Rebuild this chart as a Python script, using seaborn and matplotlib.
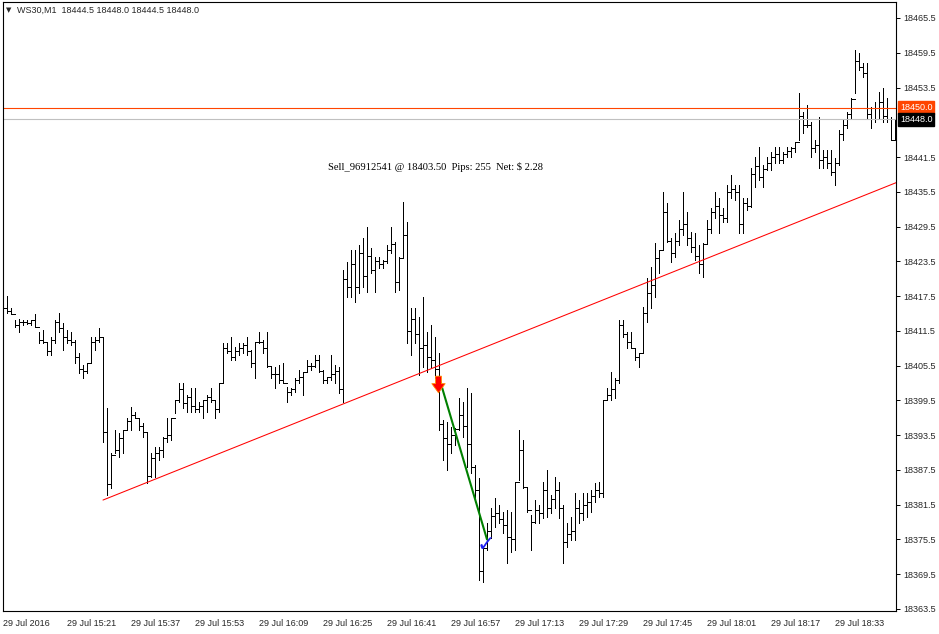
import numpy as np
import pandas as pd
import matplotlib
matplotlib.use("Agg")
import matplotlib.pyplot as plt
import seaborn as sns

# WS30 M1 bars, 29 Jul 2016 15:05 .. 18:48 (one bar per minute)
first_open = 18415.0
highs = [
    18416.3, 18417.5, 18415.4, 18413.4, 18413.5, 18413.4, 18413.4, 18413.4, 18414.4, 18411.3,
    18411.6, 18409.6, 18410.4, 18413.4, 18414.6, 18412.9, 18411.6, 18411.3, 18409.9, 18407.7,
    18405.6, 18406.0, 18410.4, 18410.4, 18412.0, 18410.4, 18398.2, 18390.4, 18394.4, 18393.9,
    18394.4, 18396.5, 18398.4, 18397.5, 18396.5, 18395.6, 18394.0, 18390.4, 18391.5, 18391.5,
    18393.2, 18396.5, 18396.5, 18399.6, 18402.5, 18402.5, 18400.4, 18401.6, 18401.6, 18399.2,
    18399.6, 18400.4, 18401.6, 18399.6, 18402.5, 18409.4, 18409.4, 18410.4, 18408.7, 18409.4,
    18409.4, 18410.4, 18408.2, 18409.4, 18411.3, 18409.9, 18411.3, 18405.3, 18405.3, 18405.6,
    18406.0, 18401.8, 18401.6, 18403.4, 18404.7, 18404.4, 18406.5, 18406.0, 18407.3, 18407.3,
    18404.7, 18403.5, 18407.3, 18405.6, 18405.3, 18422.0, 18423.4, 18425.5, 18425.5, 18426.3,
    18427.5, 18429.4, 18425.8, 18424.2, 18424.2, 18423.7, 18426.3, 18429.4, 18426.8, 18424.2,
    18433.7, 18430.3, 18415.4, 18415.4, 18413.9, 18417.3, 18411.3, 18412.5, 18410.4, 18407.7,
    18396.1, 18395.8, 18394.9, 18394.7, 18399.9, 18399.2, 18401.6, 18400.8, 18388.3, 18386.1,
    18374.2, 18378.3, 18380.9, 18382.7, 18381.4, 18380.2, 18380.6, 18380.2, 18385.4, 18394.4,
    18392.7, 18384.4, 18379.7, 18382.3, 18381.4, 18385.4, 18387.5, 18383.2, 18386.3, 18385.4,
    18381.4, 18378.3, 18379.4, 18383.5, 18382.3, 18383.5, 18383.5, 18384.0, 18385.2, 18385.4,
    18399.6, 18401.6, 18404.4, 18403.4, 18413.4, 18413.4, 18411.3, 18411.3, 18408.5, 18407.7,
    18415.6, 18420.6, 18422.5, 18426.7, 18425.5, 18435.5, 18433.6, 18427.5, 18428.4, 18430.6,
    18435.5, 18432.0, 18428.6, 18428.4, 18426.3, 18426.7, 18430.6, 18432.7, 18435.5, 18434.4,
    18432.7, 18436.7, 18438.4, 18436.7, 18436.7, 18434.4, 18434.4, 18439.6, 18441.5, 18443.2,
    18440.1, 18441.5, 18442.4, 18443.2, 18443.2, 18442.4, 18443.2, 18443.2, 18444.1, 18452.6,
    18449.3, 18450.5, 18447.5, 18444.4, 18448.4, 18442.7, 18442.7, 18442.7, 18441.3, 18446.2,
    18447.9, 18449.3, 18451.7, 18460.0, 18459.5, 18457.7, 18457.7, 18450.1, 18451.0, 18452.7,
    18453.4, 18451.7, 18448.4, 18448.0,
]
lows = [
    18414.4, 18414.6, 18414.4, 18412.2, 18411.3, 18412.5, 18412.7, 18412.5, 18412.2, 18409.4,
    18409.4, 18407.3, 18407.3, 18409.4, 18411.3, 18408.2, 18409.4, 18409.1, 18406.0, 18404.2,
    18403.4, 18404.2, 18406.0, 18408.2, 18409.6, 18392.3, 18383.2, 18384.4, 18390.4, 18389.7,
    18390.4, 18394.4, 18394.4, 18396.5, 18394.4, 18393.2, 18385.2, 18386.3, 18386.3, 18389.2,
    18389.7, 18392.3, 18392.7, 18397.3, 18399.2, 18398.2, 18397.5, 18397.5, 18397.5, 18397.5,
    18396.5, 18397.5, 18399.2, 18396.5, 18397.5, 18402.5, 18407.7, 18406.5, 18406.5, 18407.3,
    18407.7, 18407.3, 18405.3, 18403.4, 18409.4, 18407.7, 18405.3, 18403.4, 18401.6, 18402.5,
    18402.5, 18399.2, 18400.4, 18400.9, 18402.5, 18400.4, 18404.4, 18404.7, 18405.3, 18404.4,
    18402.5, 18402.5, 18403.0, 18402.5, 18400.8, 18399.2, 18417.3, 18417.3, 18416.5, 18418.0,
    18419.1, 18418.2, 18421.5, 18418.2, 18422.3, 18422.3, 18423.2, 18424.9, 18418.2, 18418.6,
    18424.2, 18409.4, 18407.3, 18409.4, 18403.9, 18405.3, 18404.4, 18405.3, 18403.4, 18394.4,
    18389.2, 18387.5, 18390.4, 18391.8, 18394.4, 18393.2, 18388.0, 18387.0, 18382.0, 18368.5,
    18368.2, 18373.7, 18375.7, 18377.6, 18378.3, 18376.6, 18371.4, 18373.3, 18373.7, 18385.8,
    18384.4, 18380.2, 18373.7, 18378.3, 18378.3, 18379.2, 18379.4, 18380.1, 18380.9, 18379.2,
    18371.4, 18374.2, 18375.4, 18375.4, 18378.3, 18378.9, 18379.4, 18380.2, 18382.0, 18382.8,
    18382.8, 18399.6, 18399.6, 18399.9, 18402.5, 18410.4, 18408.5, 18408.5, 18406.5, 18405.3,
    18407.7, 18413.0, 18415.4, 18417.3, 18421.5, 18425.5, 18426.8, 18423.4, 18424.2, 18426.3,
    18428.0, 18426.3, 18425.1, 18423.7, 18421.5, 18420.8, 18426.7, 18428.4, 18431.0, 18428.4,
    18430.3, 18430.3, 18434.4, 18434.1, 18428.4, 18428.4, 18432.4, 18432.9, 18436.3, 18437.5,
    18436.3, 18439.3, 18439.3, 18440.5, 18440.5, 18440.5, 18441.5, 18441.5, 18442.4, 18444.4,
    18445.6, 18446.7, 18441.5, 18442.4, 18439.6, 18439.6, 18439.6, 18438.4, 18436.7, 18440.1,
    18444.4, 18446.5, 18448.2, 18452.6, 18456.5, 18455.3, 18448.2, 18446.5, 18447.5, 18448.2,
    18447.5, 18447.5, 18444.5, 18444.5,
]
closes = [
    18415.5, 18415.0, 18414.4, 18412.5, 18413.0, 18413.0, 18412.8, 18413.4, 18412.2, 18410.0,
    18409.5, 18408.0, 18410.0, 18413.0, 18412.0, 18410.5, 18410.0, 18409.5, 18407.0, 18405.0,
    18404.5, 18406.0, 18409.5, 18410.0, 18410.5, 18394.0, 18385.0, 18390.0, 18391.0, 18393.0,
    18394.4, 18396.0, 18397.0, 18396.5, 18395.0, 18394.0, 18386.5, 18389.5, 18390.5, 18391.0,
    18393.0, 18393.5, 18396.5, 18399.5, 18401.5, 18399.0, 18400.0, 18398.5, 18398.0, 18398.5,
    18399.5, 18400.0, 18399.5, 18398.0, 18402.5, 18408.5, 18408.0, 18407.0, 18408.0, 18408.5,
    18409.0, 18408.0, 18406.0, 18409.5, 18409.5, 18408.5, 18405.5, 18404.0, 18404.0, 18403.0,
    18402.5, 18401.0, 18401.5, 18403.0, 18403.5, 18404.4, 18405.5, 18405.5, 18406.5, 18404.5,
    18403.0, 18403.5, 18404.0, 18404.5, 18401.5, 18420.5, 18419.0, 18423.0, 18419.0, 18425.0,
    18421.0, 18424.5, 18422.0, 18423.5, 18423.0, 18423.5, 18425.5, 18426.5, 18420.0, 18424.0,
    18428.0, 18411.5, 18413.5, 18411.0, 18408.5, 18409.0, 18407.0, 18406.5, 18405.0, 18395.5,
    18393.0, 18392.0, 18393.5, 18394.5, 18397.0, 18395.0, 18392.0, 18388.0, 18384.0, 18370.0,
    18374.0, 18377.0, 18379.5, 18380.0, 18379.0, 18378.0, 18376.0, 18375.5, 18385.4, 18391.0,
    18384.5, 18380.5, 18378.5, 18380.5, 18380.0, 18384.0, 18381.0, 18382.5, 18384.0, 18381.0,
    18375.0, 18376.5, 18377.0, 18381.0, 18380.0, 18381.5, 18382.0, 18383.0, 18384.0, 18383.5,
    18399.6, 18400.5, 18401.5, 18403.0, 18412.5, 18411.0, 18409.5, 18408.5, 18407.0, 18407.7,
    18414.5, 18418.0, 18419.5, 18424.0, 18425.5, 18432.0, 18427.0, 18425.0, 18427.0, 18429.0,
    18430.0, 18427.5, 18426.0, 18424.5, 18423.0, 18426.5, 18429.0, 18432.0, 18433.0, 18431.5,
    18431.0, 18435.5, 18436.0, 18435.5, 18430.0, 18433.5, 18433.0, 18438.5, 18440.0, 18438.0,
    18439.5, 18440.5, 18441.5, 18442.0, 18441.0, 18442.0, 18442.5, 18443.0, 18444.1, 18448.5,
    18447.0, 18447.0, 18443.0, 18443.5, 18441.0, 18441.5, 18440.5, 18439.0, 18440.5, 18445.5,
    18447.0, 18449.0, 18451.5, 18458.0, 18457.0, 18456.0, 18449.0, 18448.0, 18450.0, 18451.0,
    18448.5, 18448.0, 18444.5, 18448.0,
]

time_bars = [0, 16, 32, 48, 64, 80, 96, 112, 128, 144, 160, 176, 192, 208]
time_labels = ["29 Jul 2016", "29 Jul 15:21", "29 Jul 15:37", "29 Jul 15:53", "29 Jul 16:09",
               "29 Jul 16:25", "29 Jul 16:41", "29 Jul 16:57", "29 Jul 17:13", "29 Jul 17:29",
               "29 Jul 17:45", "29 Jul 18:01", "29 Jul 18:17", "29 Jul 18:33"]
price_ticks = [18363.5, 18369.5, 18375.5, 18381.5, 18387.5, 18393.5, 18399.5, 18405.5,
               18411.5, 18417.5, 18423.5, 18429.5, 18435.5, 18441.5, 18453.5, 18459.5, 18465.5]

trend_bars = [25, 223]
trend_prices = [18382.3, 18437.0]
trade_bars = [109, 121]
trade_prices = [18403.5, 18375.5]
trade_text = "Sell_96912541 @ 18403.50  Pips: 255  Net: $ 2.28"
text_bar, text_price = 108, 18439.8
order_line = 18450.0
bid_line = 18448.0
header = "WS30,M1  18444.5 18448.0 18444.5 18448.0"

sns.set_style("white")
plt.rcParams['font.family'] = ['Liberation Sans', 'DejaVu Sans']

fig = plt.figure(figsize=(9.39, 6.34), dpi=100)
ax = fig.add_axes([3 / 939, 23 / 634, 893 / 939, 609 / 634])

x = np.arange(len(closes))
opens = [first_open] + closes[:-1]
bars = pd.DataFrame({"bar": x, "open": opens, "high": highs, "low": lows, "close": closes})

bar_lw = 0.72
ax.vlines(bars["bar"], bars["low"], bars["high"], color="black", lw=bar_lw, antialiased=False)
ax.hlines(bars["open"], bars["bar"] - 0.4, bars["bar"], color="black", lw=bar_lw, antialiased=False)
ax.hlines(bars["close"], bars["bar"], bars["bar"] + 0.4, color="black", lw=bar_lw, antialiased=False)

xmax = 223.25
# trend ray
slope = (trend_prices[1] - trend_prices[0]) / (trend_bars[1] - trend_bars[0])
ray = pd.DataFrame({"bar": [trend_bars[0], xmax + 2],
                    "price": [trend_prices[0], trend_prices[0] + slope * (xmax + 2 - trend_bars[0])]})
sns.lineplot(data=ray, x="bar", y="price", color="red", lw=0.75, ax=ax)

ax.axhline(order_line, color="#ff4500", lw=0.8)
ax.axhline(bid_line, color="#c0c0c0", lw=0.8)

# trade
trade = pd.DataFrame({"bar": trade_bars, "price": trade_prices})
sns.lineplot(data=trade, x="bar", y="price", color="#008000", lw=1.5, ax=ax)
arrow = [(-0.35, 1), (0.35, 1), (0.35, 0.1), (0.8, 0.1), (0, -1), (-0.8, 0.1), (-0.35, 0.1), (-0.35, 1)]
ax.plot(trade_bars[0] - 0.25, trade_prices[0] - 1.2, marker=arrow, ms=12, color="red",
        mec="#ff8c00", mew=0.6)
ax.text(trade_bars[1] - 0.3, trade_prices[1] - 0.9, "\u2713", color="#2020f0", fontsize=16,
        ha="center", va="center", family="DejaVu Sans")

ax.text(text_bar, text_price, trade_text, ha="center", va="center", fontsize=7.6,
        family="Liberation Serif", color="black")

ax.set_xlim(0, xmax)
ax.set_ylim(18363.15, 18468.26)

ax.yaxis.tick_right()
ax.set_yticks(price_ticks)
ax.set_yticklabels([f"{p:.1f}" for p in price_ticks], fontsize=6.5)
ax.set_xticks(time_bars)
ax.set_xticklabels(time_labels, fontsize=6.5, ha="left")
ax.tick_params(axis="both", direction="out", length=3, width=0.7, color="black", pad=2)
ax.tick_params(axis="x", pad=3)
ax.set_xlabel("")
ax.set_ylabel("")
for s in ax.spines.values():
    s.set_color("black")
    s.set_linewidth(0.8)

for price, face in [(order_line, "#ff4500"), (bid_line, "black")]:
    ax.annotate(f"{price:.1f}", xy=(1, price), xycoords=("axes fraction", "data"),
                xytext=(3, 0), textcoords="offset points", ha="left", va="center",
                fontsize=6.5, color="white",
                bbox=dict(boxstyle="square,pad=0.2", fc=face, ec=face))

fig.text(9 / 939, 1 - 10 / 634, "\u25bc", fontsize=5, ha="center", va="center", family="DejaVu Sans")
fig.text(17 / 939, 1 - 10 / 634, header, fontsize=6.5, ha="left", va="center")

fig.savefig("out.png", dpi=100)
